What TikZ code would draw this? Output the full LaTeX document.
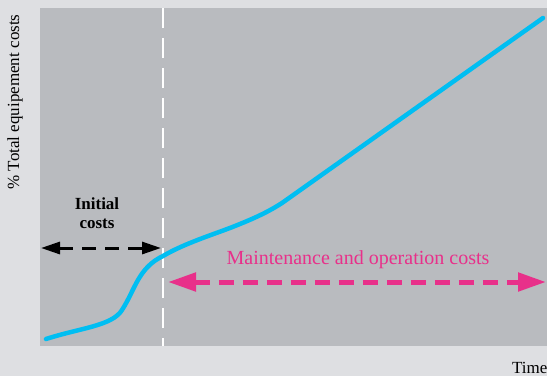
\documentclass[tikz,border=0pt]{standalone}
\usepackage{fontspec}
\setmainfont{Liberation Serif}
\usetikzlibrary{arrows.meta}
\definecolor{outerbg}{HTML}{DEDFE2}
\definecolor{plotbg}{HTML}{B9BBBF}
\definecolor{curvecol}{HTML}{00BEF2}
\definecolor{magcol}{HTML}{E8308A}
\tikzset{
  lbl/.style={inner sep=0pt},
  costcurve/.style={curvecol, line width=4.5pt, line cap=round},
  divider/.style={white, line width=2.5pt, dash pattern=on 20pt off 10pt},
  initarrow/.style={black, line width=3pt, dash pattern=on 14pt off 9pt, {Triangle[length=19pt,width=12pt]}-{Triangle[length=19pt,width=12pt]}},
  maintarrow/.style={magcol, line width=5pt, dash pattern=on 15pt off 9pt, {Triangle[length=28pt,width=18pt]}-{Triangle[length=28pt,width=18pt]}},
}
\begin{document}
\begin{tikzpicture}[x=1pt,y=-1pt]
\fill[outerbg] (0,0) rectangle (547,376);
\useasboundingbox (0,0) rectangle (547,376);
\fill[plotbg] (40,8) rectangle (547,346);
% divider
\coordinate (dtop) at (163,8);
\coordinate (dbot) at (163,346);
\draw[divider] (dtop) -- (dbot);
% curve
\draw[costcurve] (46,339) .. controls (80,328) and (112,326) .. (122,310)
  .. controls (135,290) and (138,268) .. (163,256)
  .. controls (185,243) and (215,234) .. (235,226)
  .. controls (255,218) and (268,212) .. (282,203)
  -- (543,18);
% arrows
\coordinate (ia) at (41,248);
\coordinate (ib) at (161,248);
\draw[initarrow] (ia) -- (ib);
\coordinate (ma) at (168,282);
\coordinate (mb) at (546,282);
\draw[maintarrow] (ma) -- (mb);
% labels
\node[lbl, font=\fontsize{17}{19}\selectfont\bfseries, align=center] (init) at (97,213) {Initial\\costs};
\node[lbl, magcol, font=\fontsize{20}{22}\selectfont] (maint) at (358,260) {Maintenance and operation costs};
\node[lbl, rotate=90, font=\fontsize{17}{19}\selectfont] (ylab) at (15,102) {\% Total equipement costs};
\node[lbl, anchor=west, font=\fontsize{17}{19}\selectfont] (time) at (512,368) {Time};
\end{tikzpicture}
\end{document}
